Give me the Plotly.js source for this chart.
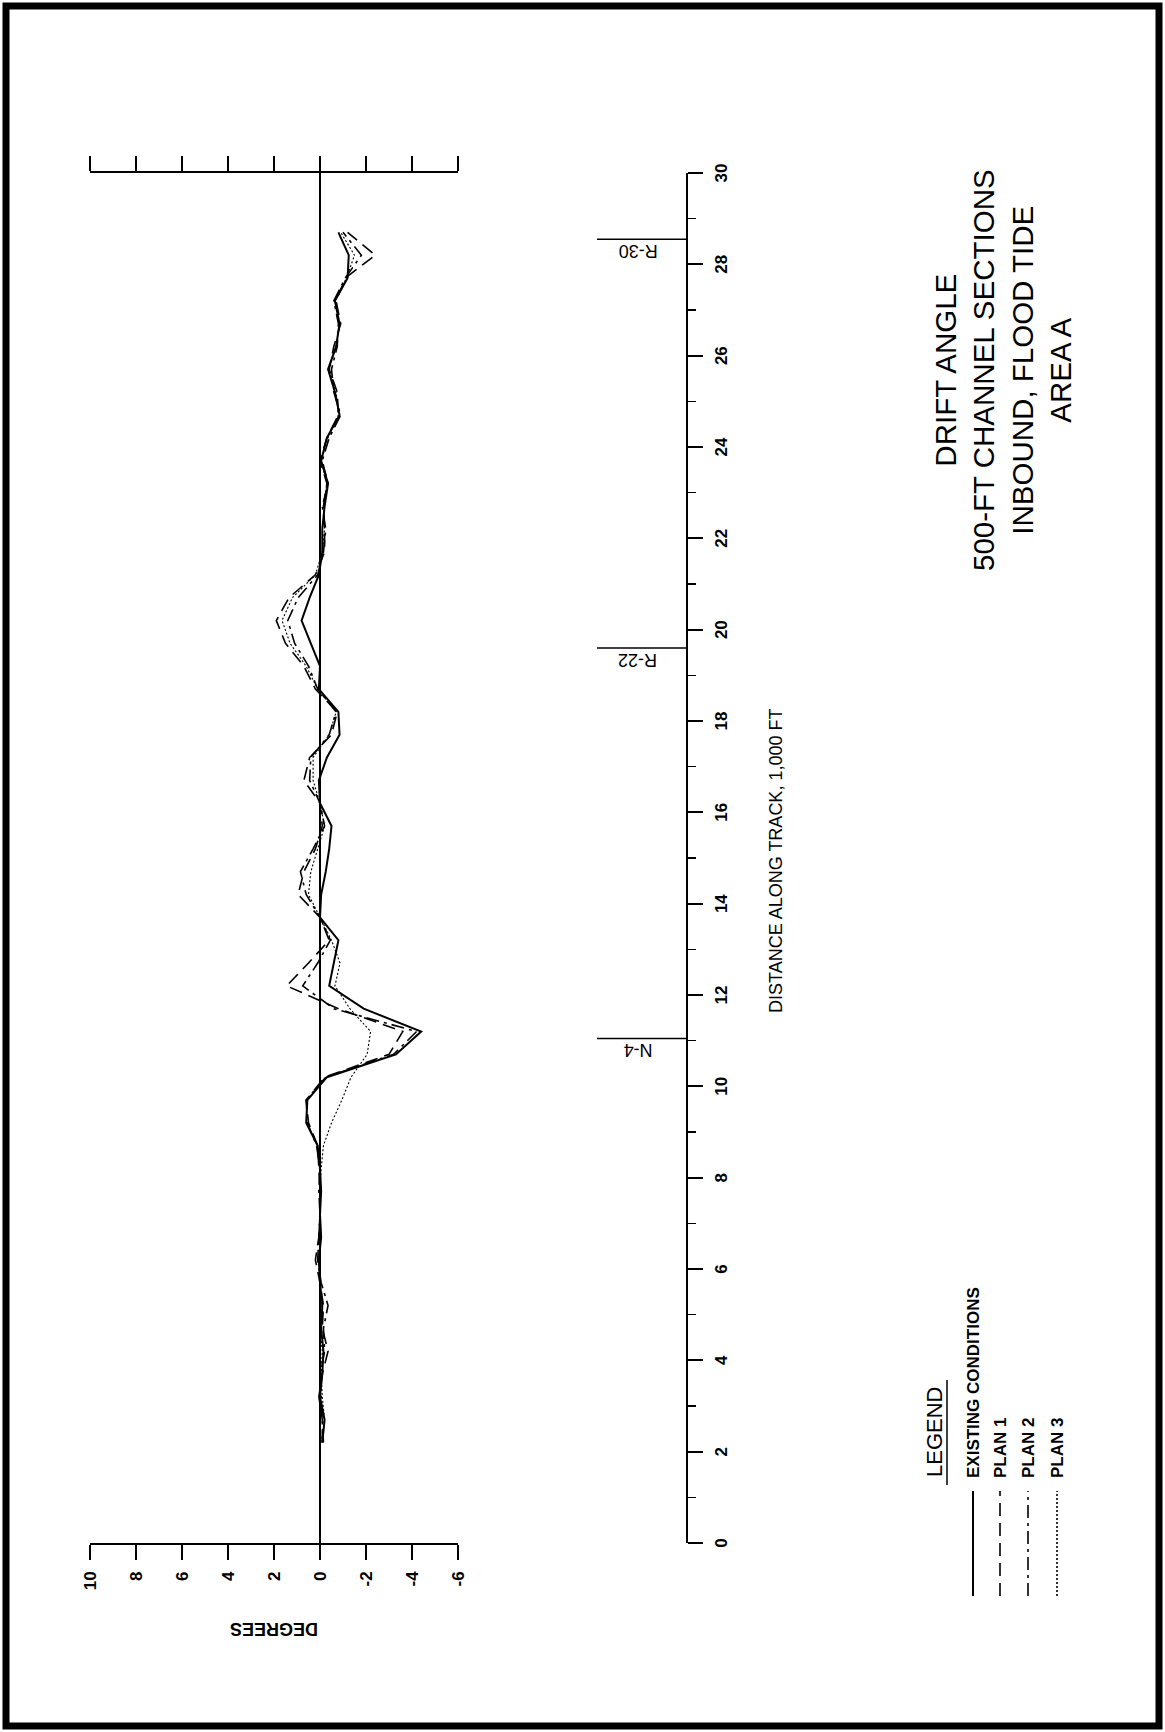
<!DOCTYPE html>
<html>
<head>
<meta charset="utf-8">
<script src="https://cdn.plot.ly/plotly-3.0.1.min.js"></script>
<style>
  html, body { margin:0; padding:0; background:#fff; overflow:hidden; width:1165px; height:1732px; }
  #wrap { position:absolute; left:0; top:0; width:1732px; height:1165px;
          transform-origin:0 0; transform:translate(0px,1732px) rotate(-90deg); }
</style>
</head>
<body>
<div id="wrap"><div id="chart"></div></div>
<script>
// ---------------- data ----------------
const distance = [2.2,2.7,3.2,3.7,4.2,4.7,5.2,5.7,6.2,6.7,7.2,7.7,8.2,8.7,9.2,9.7,
  10.2,10.7,11.2,11.7,12.2,12.7,13.2,13.7,14.2,14.7,15.2,15.7,16.2,16.7,17.2,17.7,
  18.2,18.7,19.2,19.7,20.2,20.7,21.2,21.7,22.2,22.7,23.2,23.7,24.2,24.7,25.2,25.7,
  26.2,26.7,27.2,27.7,28.2,28.7];

const existing = [-0.1,-0.2,0,-0.1,-0.15,-0.05,-0.1,0,0.05,-0.05,0,-0.05,0,0.1,0.6,0.55,
  -0.3,-3.3,-4.4,-1.9,-0.4,-0.6,-0.8,0,-0.05,-0.25,-0.4,-0.5,0,0.05,-0.3,-0.85,
  -0.8,0.05,0,0.4,0.8,0.45,0.05,-0.1,-0.1,-0.2,-0.35,-0.05,-0.3,-0.85,-0.65,-0.35,
  -0.7,-0.85,-0.65,-1.2,-1.25,-0.8];

const plan1 = [-0.15,-0.1,0.05,-0.1,-0.35,-0.1,-0.15,0,0.2,0.05,0,0,0.05,0.1,0.5,0.6,
  -0.2,-3.0,-3.6,-0.8,1.45,0.5,-0.4,0,0.95,0.7,0.2,-0.1,0,0.7,0.45,-0.5,
  -0.75,0.2,0.7,1.5,1.9,1.35,0.2,-0.2,-0.2,-0.15,-0.3,0,-0.3,-0.8,-0.75,-0.4,
  -0.6,-0.9,-0.7,-1.1,-2.4,-1.2];

const plan2 = [-0.1,-0.1,-0.05,0,-0.2,-0.15,-0.35,-0.05,0.1,0.05,0,0.05,0,0.15,0.55,0.6,
  -0.25,-3.2,-4.2,-0.6,0.75,0.1,-0.45,0,0.6,0.85,0.3,-0.2,0,0.45,0.4,-0.4,
  -0.7,0.1,0.5,1.1,1.4,0.95,0.1,-0.15,-0.25,-0.1,-0.35,-0.1,-0.4,-0.9,-0.6,-0.5,
  -0.75,-0.8,-0.6,-1.1,-1.8,-1.0];

const plan3 = [-0.05,-0.2,-0.1,-0.05,-0.1,0,-0.05,0,0,0,0,0,-0.05,-0.15,-0.5,-0.95,
  -1.35,-2.05,-2.2,-1.3,-0.65,-0.87,-0.5,0,0.5,0.4,0.1,-0.2,0,0.3,0.3,-0.4,
  -0.7,0.1,0.6,1.3,1.65,1.2,0.2,-0.1,-0.2,-0.15,-0.3,-0.05,-0.35,-0.8,-0.7,-0.4,
  -0.7,-0.85,-0.65,-1.15,-1.5,-0.9];

const seriesNames = ['EXISTING CONDITIONS','PLAN 1','PLAN 2','PLAN 3'];
const landmarkNames = ['R-30','R-22','N-4'];
const landmarkDist = [28.55, 19.6, 11.05];
const degreeTicks = [-6,-4,-2,0,2,4,6,8,10];
const degreeTickText = ['-6','-4','-2','0','2','4','6','8','10'];
const titleLines = ['DRIFT ANGLE','500-FT CHANNEL SECTIONS','INBOUND, FLOOD TIDE','AREA A'];

// ---------------- layout helpers (pixel -> paper) ----------------
const W = 1732, H = 1165, L = 189, R = 173, T = 90, B = 465;
const px = X => (X - L) / (W - L - R);
const py = Y => (H - B - Y) / (H - T - B);

const FONT = 'Liberation Sans, Arial, Helvetica, sans-serif';
const styles = [
  {width: 2,   dash: 'solid'},
  {width: 1.6, dash: '13px,7px'},
  {width: 1.6, dash: '13px,5px,3px,5px'},
  {width: 1.1, dash: '2px,2px'}
];
const values = [existing, plan1, plan2, plan3];

const traces = values.map((v, i) => ({
  type: 'scatter', mode: 'lines', name: seriesNames[i],
  x: distance, y: v,
  line: {color: '#000', width: styles[i].width, dash: styles[i].dash},
  hoverinfo: 'skip'
}));

const shapes = [];
const annotations = [];

// landmarks
landmarkDist.forEach((d, i) => {
  shapes.push({type:'line', xref:'x', yref:'paper', x0:d, x1:d, y0:py(687), y1:py(597),
               line:{color:'#000', width:1.5}});
  annotations.push({xref:'x', yref:'paper', x:d, y:py(638), xshift:-12,
    text: landmarkNames[i], textangle:-90, showarrow:false,
    xanchor:'center', yanchor:'middle', font:{size:18, family:FONT, color:'#000'}});
});

// axis titles
annotations.push({xref:'paper', yref:'paper', x:px(103), y:py(274), text:'DEGREES',
  textangle:-90, showarrow:false, xanchor:'center', yanchor:'middle',
  font:{size:18, family:FONT, color:'#000', weight:'bold'}});
annotations.push({xref:'paper', yref:'paper', x:px(871), y:py(776),
  text:'DISTANCE ALONG TRACK, 1,000 FT', showarrow:false, xanchor:'center', yanchor:'middle',
  font:{size:18, family:FONT, color:'#000'}});

// title block
annotations.push({xref:'paper', yref:'paper', x:px(1362), y:py(1003),
  text: titleLines.join('<br>'), showarrow:false, xanchor:'center', yanchor:'middle',
  align:'center', font:{size:29.5, family:FONT, color:'#000'}});

// legend (manual, like the original)
annotations.push({xref:'paper', yref:'paper', x:px(300), y:py(934), text:'LEGEND',
  showarrow:false, xanchor:'center', yanchor:'middle',
  font:{size:22, family:FONT, color:'#000'}});
shapes.push({type:'line', xref:'paper', yref:'paper', x0:px(247), x1:px(352),
  y0:py(947), y1:py(947), line:{color:'#000', width:1.5}});
const legY = [973, 1000, 1028, 1057];
seriesNames.forEach((n, i) => {
  shapes.push({type:'line', xref:'paper', yref:'paper', x0:px(136), x1:px(241),
    y0:py(legY[i]), y1:py(legY[i]),
    line:{color:'#000', width: i === 0 ? 2 : 1.6, dash: styles[i].dash}});
  annotations.push({xref:'paper', yref:'paper', x:px(252), y:py(legY[i]), text:n,
    showarrow:false, xanchor:'left', yanchor:'middle',
    font:{size:17, family:FONT, color:'#000', weight:'bold'}});
});

// page frame
shapes.push({type:'rect', xref:'paper', yref:'paper', x0:px(6), x1:px(1726),
  y0:py(6), y1:py(1159), line:{color:'#000', width:7}, fillcolor:'rgba(0,0,0,0)'});

const layout = {
  width: W, height: H,
  margin: {l:L, r:R, t:T, b:B, pad:0},
  paper_bgcolor:'#fff', plot_bgcolor:'rgba(0,0,0,0)',
  showlegend:false,
  font:{family:FONT, color:'#000'},
  xaxis: {
    range:[0,30], anchor:'free', position: py(687),
    showline:true, linecolor:'#000', linewidth:2,
    ticks:'outside', ticklen:15, tickwidth:2, tickcolor:'#000',
    tick0:0, dtick:2, showgrid:false, zeroline:false,
    tickfont:{size:17, family:FONT, color:'#000', weight:'bold'},
    ticklabelstandoff:4,
    minor:{dtick:1, tick0:0, ticks:'outside', ticklen:8, tickwidth:1.5, tickcolor:'#000', showgrid:false}
  },
  yaxis: {
    range:[-6,10], domain:[py(458), 1],
    showline:true, mirror:'ticks', linecolor:'#000', linewidth:2,
    ticks:'outside', ticklen:15, tickwidth:2, tickcolor:'#000',
    tickvals:degreeTicks, ticktext:degreeTickText,
    showgrid:false, zeroline:true, zerolinecolor:'#000', zerolinewidth:2.5,
    tickfont:{size:17, family:FONT, color:'#000', weight:'bold'},
    ticklabelstandoff:8
  },
  shapes: shapes,
  annotations: annotations
};

Plotly.newPlot('chart', traces, layout, {displayModeBar:false, staticPlot:true});
</script>
</body>
</html>
